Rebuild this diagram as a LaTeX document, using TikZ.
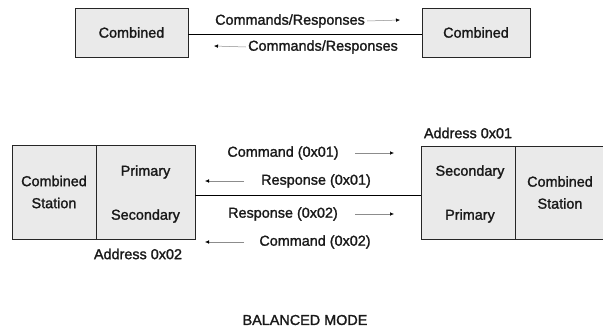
\documentclass[tikz,border=0pt]{standalone}
\usepackage{fontspec}
\setmainfont{Liberation Sans}[FakeBold=1.5]
\usetikzlibrary{arrows.meta}
\definecolor{boxfill}{HTML}{EAEAEA}
\begin{document}
\begin{tikzpicture}[x=1pt,y=-1pt,
  every node/.style={font=\fontsize{14.4}{16}\selectfont, text=black!90, inner sep=0pt},
  box/.style={draw=black!85, fill=boxfill, line width=0.8pt, align=center},
  lbl/.style={anchor=center},
  link/.style={line width=1pt, black},
  flow/.style={line width=0.5pt, draw=black!45, -{Latex[length=4pt,width=3.5pt,black]}}]
\useasboundingbox (0,0) rectangle (603,330);
% top
\node[box, minimum width=113pt, minimum height=49pt] (tl) at (131.5,32.5) {Combined};
\node[box, minimum width=108pt, minimum height=49pt] (tr) at (476,32.5) {Combined};
\draw[link] (tl.east |- 0,34) -- (tr.west |- 0,34);
\node[lbl] (t1) at (290,21) {Commands/Responses};
\coordinate (t1a) at (400,20);
\draw[flow] (t1.east) ++(2,0) coordinate (t1s) (t1s) -- (t1a);
\node[lbl] (t2) at (323,47) {Commands/Responses};
\coordinate (t2a) at (214,46);
\draw[flow] (t2.west) ++(-2,0) coordinate (t2s) (t2s) -- (t2a);
% bottom left station
\node[box, minimum width=84pt, minimum height=94pt] (lcs) at (54,192) {Combined\\[6pt]Station};
\node[box, minimum width=99pt, minimum height=94pt] (lps) at (145.5,192) {};
\node (lp) at (145.5,172) {Primary};
\node (ls) at (145.5,216) {Secondary};
\node (la) at (138,254) {Address 0x02};
% bottom right station
\node[box, minimum width=94pt, minimum height=93pt] (rsp) at (468,192.5) {};
\node[box, minimum width=90pt, minimum height=93pt] (rcs) at (560,192.5) {Combined\\[6pt]Station};
\node (rs) at (470,172) {Secondary};
\node (rp) at (470,216) {Primary};
\node (ra) at (468,133) {Address 0x01};
% link
\draw[link] (lps.east |- 0,195) -- (rsp.west |- 0,195);
% messages
\node (m1) at (283,153) {Command (0x01)};
\node (m2) at (316,181) {Response (0x01)};
\node (m3) at (283,214) {Response (0x02)};
\node (m4) at (315,242) {Command (0x02)};
\coordinate (a1s) at (355,153); \coordinate (a1e) at (394,153);
\coordinate (a2s) at (244,181); \coordinate (a2e) at (205,181);
\coordinate (a3s) at (355,214); \coordinate (a3e) at (394,214);
\coordinate (a4s) at (244,242); \coordinate (a4e) at (205,242);
\draw[flow] (a1s) -- (a1e);
\draw[flow] (a2s) -- (a2e);
\draw[flow] (a3s) -- (a3e);
\draw[flow] (a4s) -- (a4e);
\node (title) at (305,320) {BALANCED MODE};
\end{tikzpicture}
\end{document}
